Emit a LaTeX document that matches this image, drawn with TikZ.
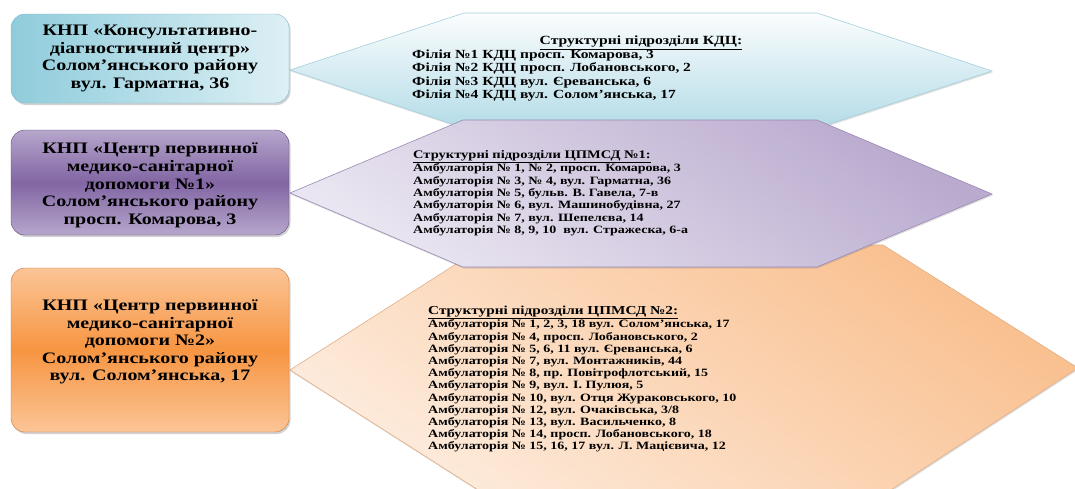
\documentclass[tikz,border=0pt]{standalone}
\usepackage{fontspec}
\setmainfont[FakeStretch=1.25]{Liberation Serif}
\usetikzlibrary{shadows}
\definecolor{cyanD}{HTML}{8FCCDB}
\definecolor{cyanL}{HTML}{DDF0F5}
\definecolor{cyanB}{HTML}{7FB8C8}
\definecolor{hexcyanT}{HTML}{FBFDFE}
\definecolor{hexcyanB}{HTML}{B4DCE7}
\definecolor{hexcyanE}{HTML}{A3CFDC}
\definecolor{purD}{HTML}{8166A3}
\definecolor{purL}{HTML}{B6A6CC}
\definecolor{purB}{HTML}{5E4A7A}
\definecolor{hexpurT}{HTML}{B9AACE}
\definecolor{hexpurB}{HTML}{EAE6F1}
\definecolor{hexpurE}{HTML}{9A88B3}
\definecolor{orD}{HTML}{F79542}
\definecolor{orL}{HTML}{FBC596}
\definecolor{orB}{HTML}{C8773A}
\definecolor{hexorT}{HTML}{F9BF8E}
\definecolor{hexorB}{HTML}{FDEBDC}
\definecolor{hexorE}{HTML}{E2AE86}
\tikzset{
  boxshape/.style={rounded corners=14pt, minimum width=278pt, inner sep=0pt,
    drop shadow={shadow xshift=1.5pt, shadow yshift=-2pt, opacity=0.35}},
  boxtext/.style={align=center, inner sep=0pt, font=\bfseries\fontsize{16}{17.6}\selectfont},
  listtext/.style={align=left, inner sep=0pt, anchor=west},
  hexshape/.style={line width=0.6pt,
    drop shadow={shadow xshift=0.8pt, shadow yshift=-1.5pt, opacity=0.25}},
}
\begin{document}
\begin{tikzpicture}[x=1pt,y=-1pt]
\useasboundingbox (0,0) rectangle (1075,488);
\clip (0,0) rectangle (1075,488);
\fill[white] (0,0) rectangle (1075,488);
% cyan hexagon
\draw[hexshape, draw=hexcyanE, top color=hexcyanT, bottom color=hexcyanB]
  (290,70) -- (464,13) -- (817,13) -- (992,71) -- (817,128) -- (464,128) -- cycle;
% orange hexagon
\draw[hexshape, draw=hexorE, top color=hexorT, bottom color=hexorB, shading angle=-35]
  (290,370) -- (486,245) -- (883,245) -- (1078,368) -- (883,495) -- (486,495) -- cycle;
% purple hexagon
\draw[hexshape, draw=hexpurE, top color=hexpurT, bottom color=hexpurB, shading angle=-35]
  (290,193) -- (463,120) -- (817,120) -- (992,194) -- (817,267) -- (463,267) -- cycle;
% boxes
\node[boxshape, minimum height=89pt, draw=cyanB, line width=0.4pt, left color=cyanD, right color=cyanL]
  (b1) at (150,58.5) {};
\node[boxshape, minimum height=105pt, draw=purB, line width=0.4pt, top color=purL, bottom color=purL, middle color=purD]
  (b2) at (150,182.5) {};
\node[boxshape, minimum height=164pt, draw=orB, line width=0.4pt, top color=orL, bottom color=orL, middle color=orD]
  (b3) at (150,350) {};
\node[boxtext] (t1) at (150,58.5) {КНП «Консультативно-\\діагностичний центр»\\Солом’янського району\\вул. Гарматна, 36};
\node[boxtext] (t2) at (150,185.5) {КНП «Центр первинної\\медико-санітарної\\допомоги №1»\\Солом’янського району\\просп. Комарова, 3};
\node[boxtext] (t3) at (150,342) {КНП «Центр первинної\\медико-санітарної\\допомоги №2»\\Солом’янського району\\вул. Солом’янська, 17};
% lists
\node[inner sep=0pt, font=\bfseries\fontsize{12.5}{13.6}\selectfont] (h1) at (641,43) {\underline{Структурні підрозділи КДЦ:}};
\node[listtext, font=\bfseries\fontsize{12.4}{13.6}\selectfont] (l1) at (412,75.5) {Філія №1 КДЦ просп. Комарова, 3\\Філія №2 КДЦ просп. Лобановського, 2\\Філія №3 КДЦ вул. Єреванська, 6\\Філія №4 КДЦ вул. Солом’янська, 17};
\node[listtext, font=\bfseries\fontsize{11.2}{12.3}\selectfont] (l2) at (413,193) {\underline{\fontsize{11.6}{12.3}\selectfont Структурні підрозділи ЦПМСД №1:}\\Амбулаторія № 1, № 2, просп. Комарова, 3\\Амбулаторія № 3, № 4, вул. Гарматна, 36\\Амбулаторія № 5, бульв. В. Гавела, 7-в\\Амбулаторія № 6, вул. Машинобудівна, 27\\Амбулаторія № 7, вул. Шепелєва, 14\\Амбулаторія № 8, 9, 10~ вул. Стражеска, 6-а};
\node[listtext, font=\bfseries\fontsize{11.2}{12.2}\selectfont] (l3) at (428,379) {\underline{\fontsize{12.2}{12.2}\selectfont Структурні підрозділи ЦПМСД №2:}\\Амбулаторія № 1, 2, 3, 18 вул. Солом’янська, 17\\Амбулаторія № 4, просп. Лобановського, 2\\Амбулаторія № 5, 6, 11 вул. Єреванська, 6\\Амбулаторія № 7, вул. Монтажників, 44\\Амбулаторія № 8, пр. Повітрофлотський, 15\\Амбулаторія № 9, вул. І. Пулюя, 5\\Амбулаторія № 10, вул. Отця Жураковського, 10\\Амбулаторія № 12, вул. Очаківська, 3/8\\Амбулаторія № 13, вул. Васильченко, 8\\Амбулаторія № 14, просп. Лобановського, 18\\Амбулаторія № 15, 16, 17 вул. Л. Мацієвича, 12};
\end{tikzpicture}
\end{document}
